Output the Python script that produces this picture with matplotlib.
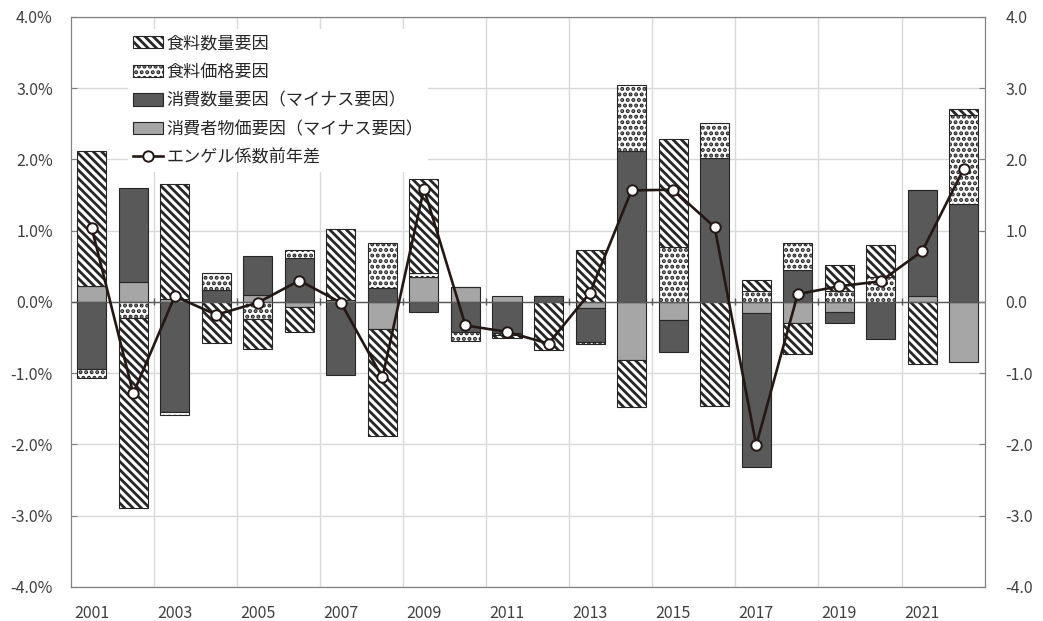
import matplotlib.pyplot as plt
import numpy as np
from matplotlib.lines import Line2D
from matplotlib.patches import Patch

plt.rcParams['font.family'] = ['Noto Sans CJK JP', 'DejaVu Sans']
plt.rcParams['hatch.linewidth'] = 2.0

years = list(range(2001, 2023))

# 食料数量要因
food_qty = [1.90, -2.67, 1.62, -0.575, -0.42, -0.35, 0.99, -1.51, 1.32, 0.0, -0.03,
            -0.67, 0.725, -0.65, 1.51, -1.46, 0.15, -0.43, 0.36, 0.455, -0.875, 0.09]
# 食料価格要因
food_price = [-0.13, -0.22, -0.05, 0.23, -0.235, 0.115, 0.0, 0.63, 0.05, -0.13, -0.03,
              0.0, -0.03, 0.93, 0.77, 0.49, 0.16, 0.375, 0.16, 0.35, 0.0, 1.25]
# 消費数量要因（マイナス要因）
cons_qty = [-0.94, 1.32, -1.54, 0.17, 0.545, 0.61, -1.03, 0.20, -0.14, -0.42, -0.44,
            0.08, -0.48, 2.12, -0.45, 2.025, -2.15, 0.455, -0.155, -0.525, 1.485, 1.37]
# 消費者物価要因（マイナス要因）
cpi = [0.22, 0.28, 0.04, 0.0, 0.10, -0.07, 0.03, -0.375, 0.35, 0.21, 0.08,
       0.0, -0.08, -0.82, -0.25, 0.0, -0.16, -0.30, -0.14, 0.0, 0.09, -0.84]
# エンゲル係数前年差
engel_diff = [1.04, -1.285, 0.08, -0.18, -0.01, 0.30, -0.01, -1.06, 1.59, -0.33, -0.42,
              -0.585, 0.13, 1.565, 1.575, 1.05, -2.01, 0.11, 0.22, 0.29, 0.715, 1.87]

labels = ['食料数量要因', '食料価格要因', '消費数量要因（マイナス要因）',
          '消費者物価要因（マイナス要因）', 'エンゲル係数前年差']

x = np.arange(len(years))

fig = plt.figure(figsize=(10.43, 6.21), dpi=100)
ax = fig.add_axes([0.068, 0.0548, 0.876, 0.918])

HATCH_Q = '\\' * 4
HATCH_P = '...'

styles = {
    'cpi': dict(color='#a6a6a6', hatch=None),
    'cons_qty': dict(color='#595959', hatch=None),
    'food_price': dict(color='white', hatch=HATCH_P),
    'food_qty': dict(color='white', hatch=HATCH_Q),
}
series = [('cpi', cpi), ('cons_qty', cons_qty), ('food_price', food_price), ('food_qty', food_qty)]

pos_base = np.zeros(len(x))
neg_base = np.zeros(len(x))
for name, vals in series:
    v = np.array(vals)
    bottom = np.where(v >= 0, pos_base, neg_base)
    st = styles[name]
    ax.bar(x, v, bottom=bottom, width=0.7, color=st['color'], hatch=st['hatch'],
           edgecolor='#262626', linewidth=0.8, zorder=3)
    pos_base += np.where(v > 0, v, 0)
    neg_base += np.where(v < 0, v, 0)

ax.plot(x, engel_diff, color='#231815', lw=1.9, marker='o', markersize=7.5,
        markerfacecolor='white', markeredgecolor='#231815', markeredgewidth=1.4, zorder=5)

ax.axhline(0, color='#595959', lw=1.0, zorder=4)
# small category tick marks on the zero line
ax.vlines(np.arange(1.5, len(x) - 1, 2), -0.05, 0.05, color='#595959', lw=1.0, zorder=4)

ax.set_xlim(-0.5, len(x) - 0.5)
ax.set_ylim(-4, 4)
ax.set_yticks(np.arange(-4, 4.1, 1))
ax.set_yticklabels([f'{v:.1f}%' for v in np.arange(-4, 4.1, 1)])
ax.set_xticks(x[::2])
ax.set_xticklabels([str(y) for y in years[::2]])
ax.tick_params(axis='x', length=0, pad=13, labelsize=11.5, labelcolor='#404040')
ax.tick_params(axis='y', direction='in', length=4, color='#808080', labelsize=11.5,
               labelcolor='#404040', pad=13)

for yv in np.arange(-4, 4.1, 1):
    ax.axhline(yv, color='#d9d9d9', lw=1.0, zorder=0)
for xv in np.arange(1.5, len(x) - 1, 2):
    ax.axvline(xv, color='#d9d9d9', lw=1.0, zorder=0)

for s in ax.spines.values():
    s.set_color('#808080')

ax2 = ax.twinx()
ax2.set_ylim(-4, 4)
ax2.set_yticks(np.arange(-4, 4.1, 1))
ax2.set_yticklabels([f'{v:.1f}' for v in np.arange(-4, 4.1, 1)])
ax2.tick_params(axis='y', direction='in', length=4, color='#808080', labelsize=11.5,
                labelcolor='#404040', pad=15)
for s in ax2.spines.values():
    s.set_color('#808080')

handles = [
    Patch(facecolor='white', edgecolor='#262626', hatch=HATCH_Q, linewidth=0.8),
    Patch(facecolor='white', edgecolor='#262626', hatch=HATCH_P, linewidth=0.8),
    Patch(facecolor='#595959', edgecolor='#262626', linewidth=0.8),
    Patch(facecolor='#a6a6a6', edgecolor='#262626', linewidth=0.8),
    Line2D([0], [0], color='#231815', lw=1.9, marker='o', markersize=7.5,
           markerfacecolor='white', markeredgecolor='#231815', markeredgewidth=1.4),
]
leg = ax.legend(handles, labels, loc='upper left', bbox_to_anchor=(128 / 1043, 1 - 29 / 621),
                bbox_transform=fig.transFigure, frameon=True, fontsize=12.3,
                handlelength=1.75, handleheight=0.75, handletextpad=0.2, labelspacing=0.62,
                borderpad=0.3, borderaxespad=0)
leg.get_frame().set_facecolor('white')
leg.get_frame().set_edgecolor('none')
leg.get_frame().set_alpha(1)
leg.set_zorder(6)
for t in leg.get_texts():
    t.set_color('#262626')

fig.savefig('out.png', dpi=100)
